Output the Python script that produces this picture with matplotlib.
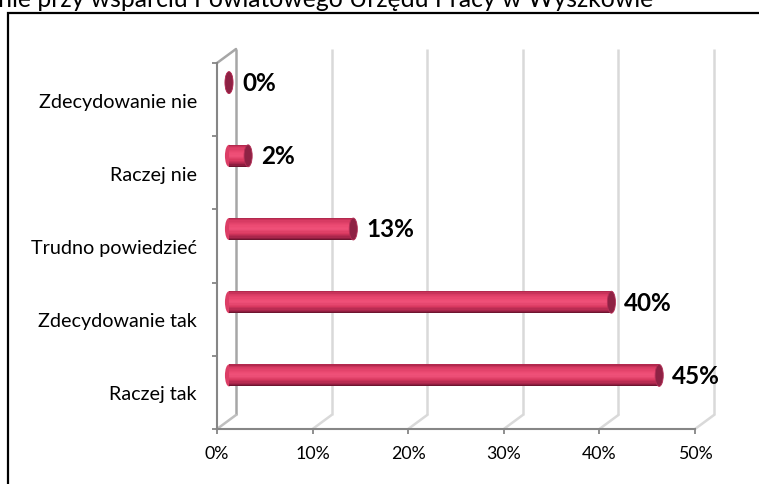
import numpy as np
import matplotlib.pyplot as plt
import matplotlib.transforms as mtransforms
from matplotlib.patches import Ellipse, Rectangle
from matplotlib.colors import LinearSegmentedColormap

# data (bottom -> top)
CATEGORIES = ["Raczej tak", "Zdecydowanie tak", "Trudno powiedzieć",
              "Raczej nie", "Zdecydowanie nie"]
VALUES = [0.45, 0.40, 0.13, 0.02, 0.00]
VALUE_LABELS = ["45%", "40%", "13%", "2%", "0%"]
XTICKS = [0.0, 0.1, 0.2, 0.3, 0.4, 0.5]
XTICK_LABELS = ["0%", "10%", "20%", "30%", "40%", "50%"]
TITLE = "enie przy wsparciu Powiatowego Urzędu Pracy w Wyszkowie"

plt.rcParams["font.family"] = ["Lato", "DejaVu Sans"]

W, H = 759, 485
fig = plt.figure(figsize=(W / 100, H / 100), dpi=100)
fig.patch.set_facecolor("white")

# chart frame (runs off the right and bottom edge of the picture)
fig.patches.append(Rectangle((8 / W, -0.2), 1.2, 0.2 + (H - 13.5) / H,
                             transform=fig.transFigure, fill=False,
                             ec="black", lw=1.6))
# title line is cut by the top edge, as in the source picture
fig.text(653 / W, (H - 7) / H, TITLE, ha="right", va="baseline",
         fontsize=17.8, color="black")

ax = fig.add_axes([217 / W, 55 / H, 478 / W, 366 / H])
ax.set_xlim(0, 0.5)
ax.set_ylim(-0.5, len(CATEGORIES) - 0.5)
ax.patch.set_visible(False)

GRID = "#D9D9D9"
AXIS = "#868686"
back = mtransforms.offset_copy(ax.transData, fig=fig, x=19, y=14, units="dots")
bars_tr = mtransforms.offset_copy(ax.transData, fig=fig, x=12, y=17, units="dots")
labels_tr = mtransforms.offset_copy(ax.transData, fig=fig, x=25, y=17, units="dots")

ymin, ymax = ax.get_ylim()
# back wall gridlines + floor diagonals
for i, x in enumerate(XTICKS):
    c = "#A6A6A6" if i == 0 else GRID
    ax.vlines(x, ymin, ymax, transform=back, color=c, lw=1.8, clip_on=False, zorder=0)
    ax.annotate("", xy=(x, ymin), xycoords=back, xytext=(x, ymin), textcoords="data",
                arrowprops=dict(arrowstyle="-", color="#BFBFBF" if i == 0 else GRID,
                                lw=1.8, shrinkA=0, shrinkB=0), zorder=0)
# top of left wall
ax.annotate("", xy=(0, ymax), xycoords=back, xytext=(0, ymax), textcoords="data",
            arrowprops=dict(arrowstyle="-", color="#A6A6A6", lw=1.8,
                            shrinkA=0, shrinkB=0), zorder=0)

# cylinders
cmap = LinearSegmentedColormap.from_list("cyl", [
    (0.0, "#A82448"), (0.12, "#D63A62"), (0.35, "#EC4A72"), (0.5, "#F0527A"),
    (0.7, "#D8385F"), (0.88, "#A4244A"), (1.0, "#5E1028")])
y = np.arange(len(CATEGORIES))
h = 0.30
cap_w = 0.0085
N = 18
for v, yy in zip(VALUES, y):
    ax.add_patch(Ellipse((0, yy), cap_w, h, transform=bars_tr, fc="#DC3E66",
                         ec="none", clip_on=False, zorder=2))
for k in range(N):
    off = h / 2 - (k + 0.5) * h / N
    ax.barh(y + off, VALUES, height=h / N * 1.02, left=0, color=cmap((k + 0.5) / N),
            transform=bars_tr, lw=0, clip_on=False, zorder=3)
for v, yy in zip(VALUES, y):
    ax.add_patch(Ellipse((v, yy), cap_w, h, transform=bars_tr, fc="#8E2244",
                         ec="#B52F57", lw=0.6, clip_on=False, zorder=4))

for v, yy, lab in zip(VALUES, y, VALUE_LABELS):
    ax.text(v, yy, lab, transform=labels_tr, ha="left", va="center",
            fontsize=17.5, fontweight="bold", color="black", zorder=5)

# axes
for s in ("top", "right"):
    ax.spines[s].set_visible(False)
for s in ("left", "bottom"):
    ax.spines[s].set_color(AXIS)
    ax.spines[s].set_linewidth(1.5)
    ax.spines[s].set_zorder(6)

ax.set_xticks(XTICKS)
ax.set_xticklabels(XTICK_LABELS)
ax.set_yticks(np.arange(-0.5, len(CATEGORIES)))
ax.set_yticklabels([])
ax.set_yticks(y, minor=True)
ax.set_yticklabels(CATEGORIES, minor=True)
ax.tick_params(axis="x", length=3.6, width=1.3, color=AXIS, labelsize=12.8, pad=8)
ax.tick_params(axis="y", which="major", length=3.6, width=1.3, color=AXIS)
ax.tick_params(axis="y", which="minor", length=0, labelsize=14.2, pad=14.5)

fig.savefig("out.png", dpi=100, facecolor="white")
